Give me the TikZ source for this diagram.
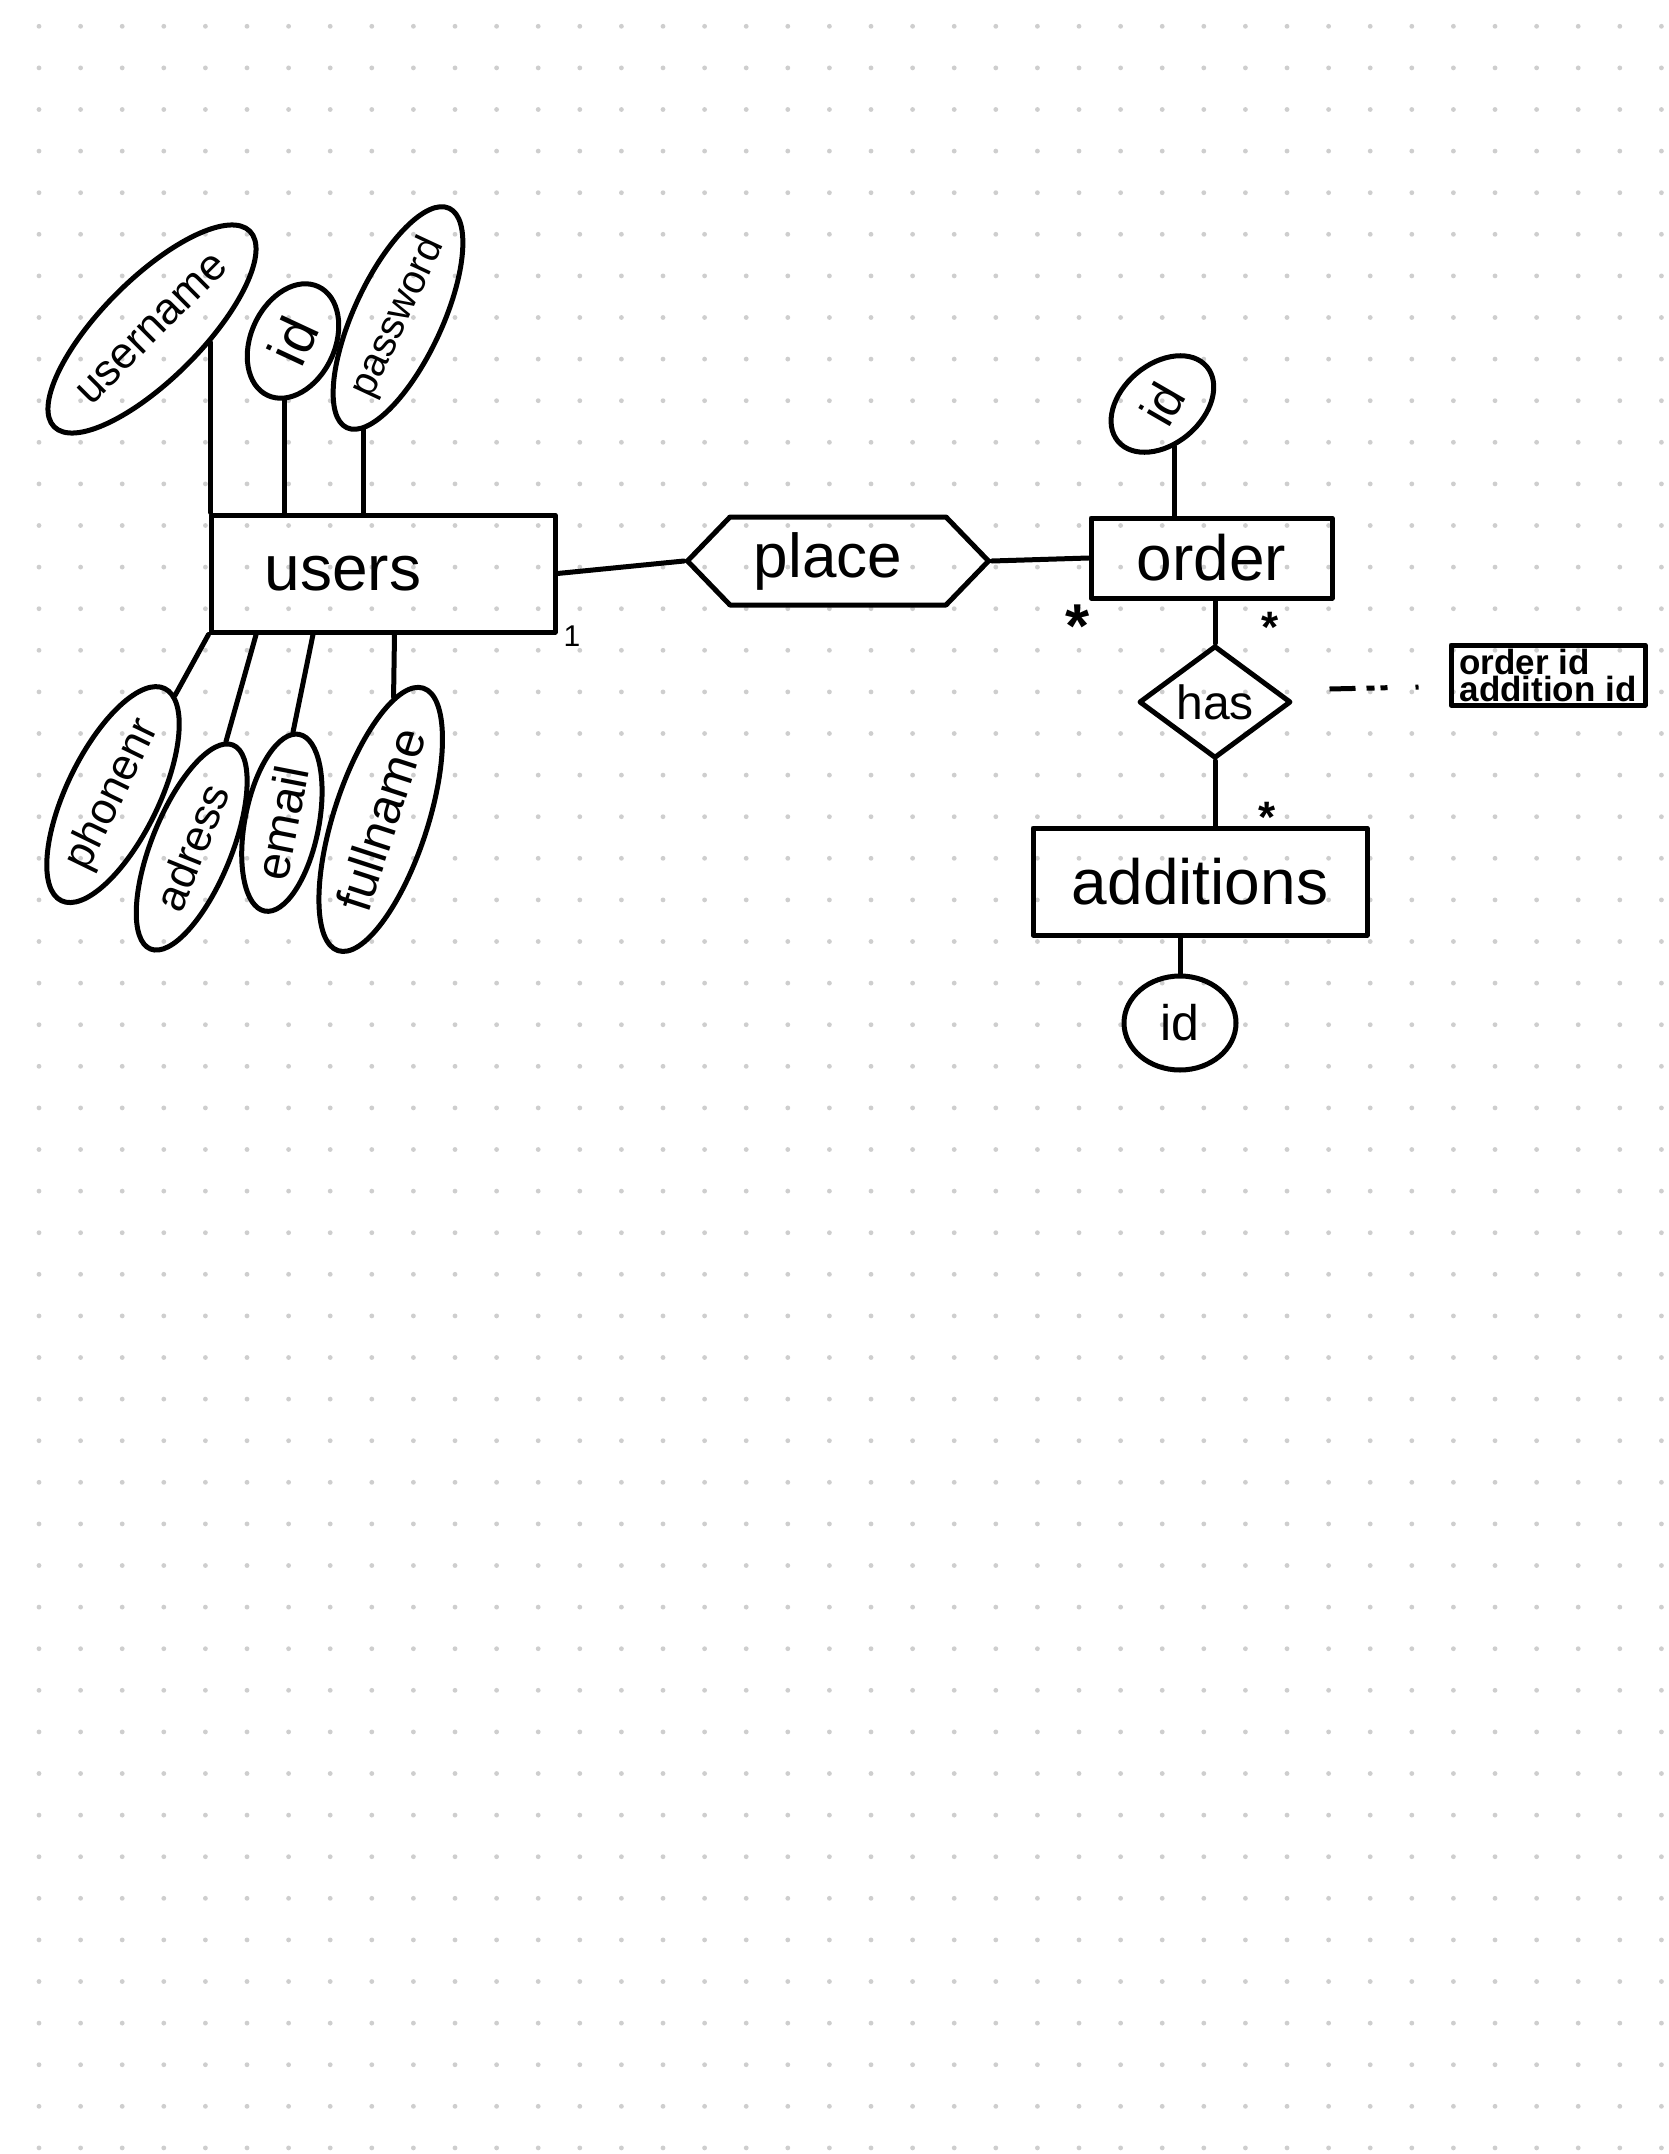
\documentclass[tikz,border=0pt]{standalone}
\usepackage{fontspec}
\setmainfont{Liberation Sans}
\usetikzlibrary{shapes.geometric,shapes.symbols}

\definecolor{dotgrey}{RGB}{206,206,206}
\newcommand\handsize[1]{\fontsize{#1}{#1}\selectfont}

\tikzset{
  ink/.style={line width=5pt, line cap=round, line join=round, draw=black},
  entity/.style={ink, rectangle, inner sep=0pt},
  attr/.style={ink, ellipse, inner sep=0pt},
  relation/.style={ink, inner sep=0pt},
  mark/.style={inner sep=0pt, font=\handsize{#1}\bfseries},
  linkdash/.style={line width=5pt, dash pattern=on 26pt off 11pt on 8pt off 6pt on 7pt off 28pt on 8pt},
}

\begin{document}
\begin{tikzpicture}[x=1pt,y=-1pt]
  % paper
  \fill[white] (0,0) rectangle (1668,2154);
  \useasboundingbox (0,0) rectangle (1668,2154);
  \foreach \i in {0,...,39}
    \foreach \j in {0,...,51}
      \fill[dotgrey] (39+41.6*\i, 26.3+41.6*\j) circle (2.4);

  % ---- users entity and its attributes
  \node[entity, minimum width=344pt, minimum height=117pt, font=\handsize{64}] (users) at (383,573.5) {users\hspace*{80pt}};

  \node[attr, minimum width=270pt, minimum height=100pt, rotate=45, font=\handsize{44}] (uname) at (152,329) {username};
  \node[attr, minimum width=120pt, minimum height=84pt, rotate=65, font=\handsize{56}] (uid) at (293,341) {id};
  \node[attr, minimum width=212pt, minimum height=88pt, rotate=65, font=\handsize{40}] (upw) at (398,318) {password};

  \node[attr, minimum width=236pt, minimum height=92pt, rotate=64, font=\handsize{44}] (phone) at (113,794.6) {phonenr};
  \node[attr, minimum width=220pt, minimum height=80pt, rotate=68, font=\handsize{44}] (addr) at (191.7,847) {adress};
  \node[attr, minimum width=180pt, minimum height=74pt, rotate=79, font=\handsize{48}] (mail) at (281.9,822.7) {email};
  \node[attr, minimum width=276pt, minimum height=94pt, rotate=72, font=\handsize{50}] (fname) at (380.7,819.4) {fullname};

  \draw[ink] (uname.-58) -- (uname.-58 |- users.north);
  \draw[ink] (uid.197) -- (uid.197 |- users.north);
  \draw[ink] (upw.188) -- (upw.188 |- users.north);

  \draw[ink] (users.south west) -- (phone.-6);
  \draw[ink] ([xshift=47.6pt]users.south west) -- (addr.4);
  \draw[ink] ([xshift=104.5pt]users.south west) -- (mail.4);
  \draw[ink] ([xshift=186pt]users.south west) -- (fname.12);

  \node[inner sep=0pt, font=\handsize{30}] (one) at (572,636) {1};

  % ---- place relationship
  \node[relation, signal, signal to=west and east, signal pointer angle=92,
        minimum width=301pt, minimum height=88pt, font=\handsize{62}] (place) at (838,561) {place\hspace*{20pt}};
  \draw[ink] (users.east) -- (place.west);

  % ---- order entity
  \node[entity, minimum width=241pt, minimum height=80pt, font=\handsize{64}] (order) at (1211.5,558) {order};
  \node[attr, minimum width=116pt, minimum height=80pt, rotate=40, font=\handsize{50}] (oid) at (1162.4,404) {\rotatebox{20}{id}};
  \draw[ink] (oid.-114) -- (oid.-114 |- order.north);
  \draw[ink] (place.east) -- (order.west);

  \node[mark=62] (st1) at (1078,626) {*};
  \node[mark=44] (st2) at (1270,627) {*};

  % ---- has relationship
  \node[relation, diamond, minimum width=152pt, minimum height=100pt, font=\handsize{48}] (has) at (1215,702) {has};
  \draw[ink] (has.north |- order.south) -- (has.north);

  \node[entity, minimum width=194pt, minimum height=60pt, align=left,
        font=\fontsize{35}{27}\selectfont\bfseries] (note) at (1548,675) {order id\\addition id};
  \draw[linkdash] ([shift={(36,-13)}]has.east) -- ([shift={(-30,12)}]note.west);

  % ---- additions entity
  \node[entity, minimum width=334pt, minimum height=107pt, font=\handsize{64}] (additions) at (1200,881.5) {additions};
  \draw[ink] (has.south) -- (has.south |- additions.north);
  \node[mark=44] (st3) at (1267,817) {*};

  \node[attr, minimum width=112pt, minimum height=94pt, font=\handsize{50}] (aid) at (1180,1023) {id};
  \draw[ink] (aid.north) -- (aid.north |- additions.south);
\end{tikzpicture}
\end{document}
